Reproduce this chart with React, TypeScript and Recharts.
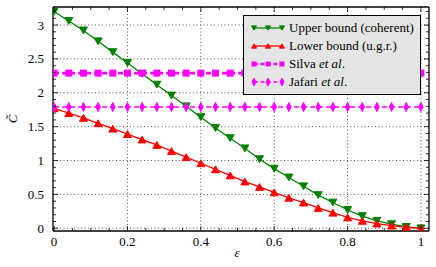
import React from "react";
import {
  LineChart,
  Line,
  XAxis,
  YAxis,
  CartesianGrid,
  Legend,
} from "recharts";

// ─── Data ─────────────────────────────────────────────────────────────────────

const EPS = [
  0, 0.04, 0.08, 0.12, 0.16, 0.2, 0.24, 0.28, 0.32, 0.36, 0.4, 0.44, 0.48,
  0.52, 0.56, 0.6, 0.64, 0.68, 0.72, 0.76, 0.8, 0.84, 0.88, 0.92, 0.96, 1.0,
];

const UPPER = [
  3.2, 3.06, 2.92, 2.76, 2.6, 2.44, 2.28, 2.12, 1.96, 1.8, 1.64, 1.48, 1.33,
  1.18, 1.02, 0.88, 0.75, 0.62, 0.49, 0.38, 0.27, 0.18, 0.11, 0.06, 0.02, 0,
];

const LOWER = [
  1.77, 1.7, 1.63, 1.55, 1.47, 1.39, 1.31, 1.23, 1.14, 1.05, 0.96, 0.87, 0.78,
  0.69, 0.61, 0.53, 0.45, 0.38, 0.3, 0.23, 0.16, 0.11, 0.07, 0.04, 0.015, 0,
];

const SILVA = [
  2.29, 2.29, 2.29, 2.29, 2.29, 2.29, 2.29, 2.29, 2.29, 2.29, 2.29, 2.29, 2.29,
  2.29, 2.29, 2.29, 2.29, 2.29, 2.29, 2.29, 2.29, 2.29, 2.29, 2.29, 2.29, 2.29,
];

const JAFARI = [
  1.79, 1.79, 1.79, 1.79, 1.79, 1.79, 1.79, 1.79, 1.79, 1.79, 1.79, 1.79, 1.79,
  1.79, 1.79, 1.79, 1.79, 1.79, 1.79, 1.79, 1.79, 1.79, 1.79, 1.79, 1.79, 1.79,
];

const X_MAJOR = [0, 0.2, 0.4, 0.6, 0.8, 1];
const X_TICKS = [
  0, 0.05, 0.1, 0.15, 0.2, 0.25, 0.3, 0.35, 0.4, 0.45, 0.5, 0.55, 0.6, 0.65,
  0.7, 0.75, 0.8, 0.85, 0.9, 0.95, 1,
];
const Y_MAJOR = [0, 0.5, 1, 1.5, 2, 2.5, 3];
const Y_TICKS = [
  0, 0.1, 0.2, 0.3, 0.4, 0.5, 0.6, 0.7, 0.8, 0.9, 1, 1.1, 1.2, 1.3, 1.4, 1.5,
  1.6, 1.7, 1.8, 1.9, 2, 2.1, 2.2, 2.3, 2.4, 2.5, 2.6, 2.7, 2.8, 2.9, 3, 3.1,
  3.2,
];

const data = EPS.map((e, i) => ({
  eps: e,
  upper: UPPER[i],
  lower: LOWER[i],
  silva: SILVA[i],
  jafari: JAFARI[i],
}));

// ─── Style ────────────────────────────────────────────────────────────────────

const FONT = "'Liberation Serif', 'DejaVu Serif', serif";
const GREEN = "#008000";
const RED = "#ff0000";
const MAGENTA = "#ff00ff";
const X_DOMAIN = [-0.003, 1.022];
const Y_DOMAIN = [-0.04, 3.266];

const isMajor = (v: number, list: number[]) =>
  list.some((m) => Math.abs(m - v) < 1e-6);

// ─── Markers ──────────────────────────────────────────────────────────────────

function triDown(cx: number, cy: number, s: number, color: string, key?: any) {
  return (
    <path
      key={key}
      d={`M${cx - s},${cy - s * 0.85} L${cx + s},${cy - s * 0.85} L${cx},${cy + s * 0.85} Z`}
      fill={color}
      stroke={color}
    />
  );
}

function triUp(cx: number, cy: number, s: number, color: string, key?: any) {
  return (
    <path
      key={key}
      d={`M${cx - s},${cy + s * 0.85} L${cx + s},${cy + s * 0.85} L${cx},${cy - s * 0.85} Z`}
      fill={color}
      stroke={color}
    />
  );
}

function square(cx: number, cy: number, s: number, color: string, key?: any) {
  return (
    <rect key={key} x={cx - s} y={cy - s} width={2 * s} height={2 * s} fill={color} />
  );
}

function diamond(cx: number, cy: number, s: number, color: string, key?: any) {
  return (
    <path
      key={key}
      d={`M${cx},${cy - s} L${cx + s * 0.5},${cy} L${cx},${cy + s} L${cx - s * 0.5},${cy} Z`}
      fill={color}
      stroke={color}
    />
  );
}

// ─── Axis ticks (inward, matplotlib style) ────────────────────────────────────

function BottomTick({ x, y, payload }: any) {
  const major = isMajor(payload.value, X_MAJOR);
  return (
    <g>
      <line x1={x} y1={y} x2={x} y2={y - (major ? 5 : 3)} stroke="#000" strokeWidth={0.8} />
      {major && (
        <text x={x} y={y + 15} textAnchor="middle" fontFamily={FONT} fontSize={13} fill="#000">
          {payload.value}
        </text>
      )}
    </g>
  );
}

function TopTick({ x, y, payload }: any) {
  const major = isMajor(payload.value, X_MAJOR);
  return <line x1={x} y1={y} x2={x} y2={y + (major ? 5 : 3)} stroke="#000" strokeWidth={0.8} />;
}

function LeftTick({ x, y, payload }: any) {
  const major = isMajor(payload.value, Y_MAJOR);
  return (
    <g>
      <line x1={x} y1={y} x2={x + (major ? 5 : 3)} y2={y} stroke="#000" strokeWidth={0.8} />
      {major && (
        <text x={x - 9} y={y + 4.5} textAnchor="end" fontFamily={FONT} fontSize={13} fill="#000">
          {payload.value}
        </text>
      )}
    </g>
  );
}

function RightTick({ x, y, payload }: any) {
  const major = isMajor(payload.value, Y_MAJOR);
  return <line x1={x} y1={y} x2={x - (major ? 5 : 3)} y2={y} stroke="#000" strokeWidth={0.8} />;
}

// ─── Axis labels ──────────────────────────────────────────────────────────────

function YLabel({ viewBox }: any) {
  const cy = viewBox.y + viewBox.height / 2;
  return (
    <text
      x={17}
      y={cy}
      transform={`rotate(-90 17 ${cy})`}
      textAnchor="middle"
      fontFamily={FONT}
      fontStyle="italic"
      fontSize={13}
      fill="#000"
    >
      {"C\u0303"}
    </text>
  );
}

function XLabel({ viewBox }: any) {
  return (
    <text
      x={viewBox.x + viewBox.width / 2 - 4}
      y={257}
      textAnchor="middle"
      fontFamily={FONT}
      fontStyle="italic"
      fontSize={13}
      fill="#000"
    >
      ε
    </text>
  );
}

// ─── Legend ───────────────────────────────────────────────────────────────────

const LEGEND_ROWS = [
  { key: "upper", color: GREEN, dash: undefined, width: 1.3, marker: triDown, label: <>Upper bound (coherent)</> },
  { key: "lower", color: RED, dash: undefined, width: 1.3, marker: triUp, label: <>Lower bound (u.g.r.)</> },
  { key: "silva", color: MAGENTA, dash: "4 2.5", width: 2.5, marker: square, label: <>Silva <i>et al</i>.</> },
  { key: "jafari", color: MAGENTA, dash: "4 2.5", width: 1.3, marker: diamond, label: <>Jafari <i>et al</i>.</> },
];

function LegendBox() {
  return (
    <div
      style={{
        width: 178,
        height: 80,
        boxSizing: "border-box",
        background: "#e5e5e5",
        border: "1.5px solid #000",
        paddingTop: 3,
        fontFamily: FONT,
        fontSize: 13,
        color: "#000",
      }}
    >
      {LEGEND_ROWS.map((r) => (
        <div key={r.key} style={{ display: "flex", alignItems: "center", height: 18 }}>
          <svg width={34} height={12} style={{ marginLeft: 7, marginRight: 4 }}>
            <line x1={3} y1={6} x2={31} y2={6} stroke={r.color} strokeWidth={r.width} strokeDasharray={r.dash} />
            {r.marker(3, 6, r.key === "jafari" ? 4 : 2.5, r.color)}
            {r.marker(17, 6, r.key === "jafari" ? 4 : 2.5, r.color)}
            {r.marker(31, 6, r.key === "jafari" ? 4 : 2.5, r.color)}
          </svg>
          <span style={{ whiteSpace: "nowrap" }}>{r.label}</span>
        </div>
      ))}
    </div>
  );
}

// ─── Chart ────────────────────────────────────────────────────────────────────

export default function App() {
  return (
    <div style={{ position: "absolute", left: 0, top: 0, background: "#fff" }}>
      <LineChart
        width={436}
        height={267}
        data={data}
        margin={{ top: 0, right: 0, bottom: 0, left: 0 }}
      >
        <CartesianGrid
          horizontalValues={Y_MAJOR}
          verticalValues={[0.2, 0.4, 0.6, 0.8, 1]}
          stroke="#555"
          strokeDasharray="1 2.5"
          strokeWidth={1}
        />
        <XAxis
          dataKey="eps"
          type="number"
          domain={X_DOMAIN}
          allowDataOverflow
          ticks={X_TICKS}
          interval={0}
          tickSize={0}
          tickMargin={0}
          tick={<BottomTick />}
          axisLine={{ stroke: "#000", strokeWidth: 1.3 }}
          height={36}
          label={<XLabel />}
        />
        <XAxis
          xAxisId="top"
          orientation="top"
          dataKey="eps"
          type="number"
          domain={X_DOMAIN}
          allowDataOverflow
          ticks={X_TICKS}
          interval={0}
          tickSize={0}
          tickMargin={0}
          tick={<TopTick />}
          axisLine={{ stroke: "#000", strokeWidth: 1.3 }}
          height={7}
        />
        <YAxis
          type="number"
          domain={Y_DOMAIN}
          allowDataOverflow
          ticks={Y_TICKS}
          interval={0}
          tickSize={0}
          tickMargin={0}
          tick={<LeftTick />}
          axisLine={{ stroke: "#000", strokeWidth: 1.3 }}
          width={53}
          label={<YLabel />}
        />
        <YAxis
          yAxisId="right"
          orientation="right"
          type="number"
          domain={Y_DOMAIN}
          allowDataOverflow
          ticks={Y_TICKS}
          interval={0}
          tickSize={0}
          tickMargin={0}
          tick={<RightTick />}
          axisLine={{ stroke: "#000", strokeWidth: 1.3 }}
          width={7}
        />
        <Legend
          layout="vertical"
          align="center"
          verticalAlign="middle"
          content={<LegendBox />}
          wrapperStyle={{ left: 243, top: 15, width: 178, height: 80 }}
        />

        <Line
          dataKey="upper"
          type="linear"
          stroke={GREEN}
          strokeWidth={1.3}
          isAnimationActive={false}
          dot={(p: any) => triDown(p.cx, p.cy, 4, GREEN, `u${p.index}`)}
        />
        <Line
          dataKey="lower"
          type="linear"
          stroke={RED}
          strokeWidth={1.3}
          isAnimationActive={false}
          dot={(p: any) => triUp(p.cx, p.cy, 4, RED, `l${p.index}`)}
        />
        <Line
          dataKey="silva"
          type="linear"
          stroke={MAGENTA}
          strokeWidth={2.8}
          strokeDasharray="5 3"
          isAnimationActive={false}
          dot={(p: any) => square(p.cx, p.cy, 3.5, MAGENTA, `s${p.index}`)}
        />
        <Line
          dataKey="jafari"
          type="linear"
          stroke={MAGENTA}
          strokeWidth={1.5}
          strokeDasharray="5 3"
          isAnimationActive={false}
          dot={(p: any) => diamond(p.cx, p.cy, 4.5, MAGENTA, `j${p.index}`)}
        />
      </LineChart>
    </div>
  );
}
